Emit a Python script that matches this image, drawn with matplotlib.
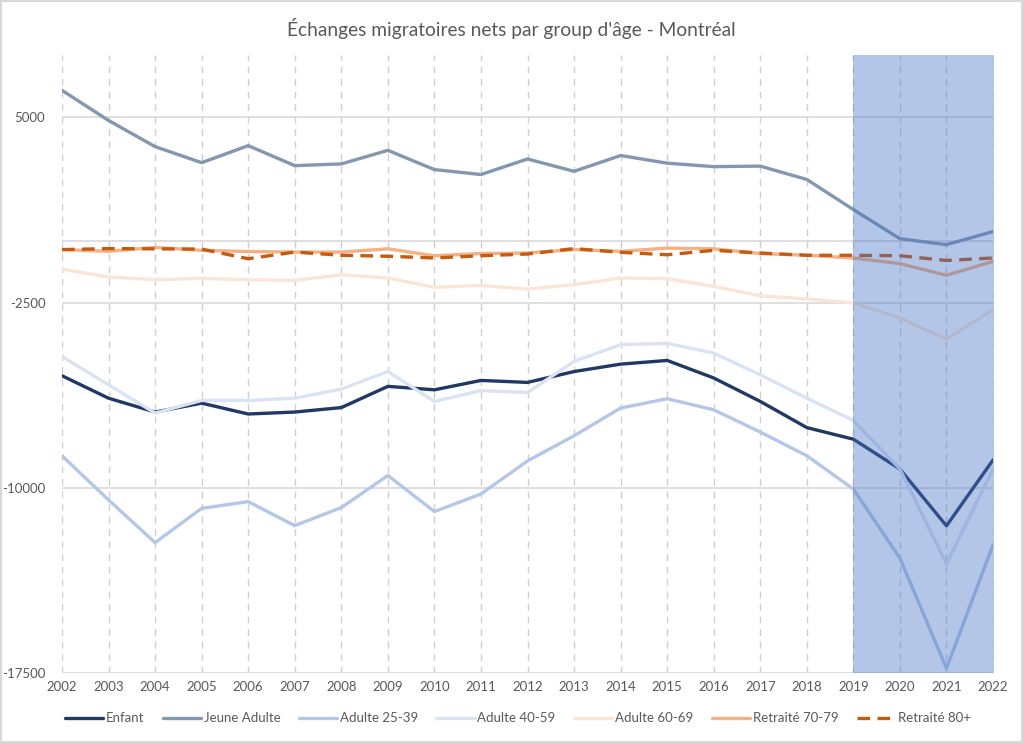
import matplotlib
matplotlib.use("Agg")
import matplotlib.pyplot as plt
from matplotlib.patches import Rectangle

years = list(range(2002, 2023))

enfant = [-5460, -6370, -6930, -6570, -7010, -6930, -6750, -5890, -6030, -5650, -5730,
          -5290, -4990, -4840, -5550, -6500, -7560, -8030, -9240, -11540, -8870]
jeune_adulte = [6100, 4880, 3820, 3170, 3860, 3050, 3120, 3670, 2890, 2690, 3320,
                2820, 3460, 3150, 3010, 3030, 2490, 1270, 90, -150, 380]
adulte_25_39 = [-8700, -10490, -12220, -10830, -10560, -11530, -10800, -9500, -10960, -10250, -8910,
                -7890, -6770, -6390, -6840, -7740, -8700, -10050, -12850, -17310, -12310]
adulte_40_59 = [-4680, -5830, -6970, -6460, -6460, -6370, -6000, -5290, -6500, -6060, -6140,
                -4880, -4200, -4150, -4540, -5420, -6370, -7270, -9240, -13080, -9240]
adulte_60_69 = [-1140, -1460, -1570, -1520, -1570, -1600, -1370, -1500, -1880, -1800, -1950,
                -1770, -1500, -1530, -1840, -2220, -2350, -2510, -3120, -3970, -2790]
retraite_70_79 = [-350, -420, -260, -380, -430, -450, -450, -320, -600, -510, -490,
                  -350, -420, -290, -320, -510, -580, -690, -920, -1390, -830]
retraite_80 = [-350, -310, -320, -330, -720, -450, -580, -620, -690, -600, -530,
               -310, -460, -560, -380, -490, -580, -580, -600, -790, -690]

labels = ["Enfant", "Jeune Adulte", "Adulte 25-39", "Adulte 40-59",
          "Adulte 60-69", "Retraité 70-79", "Retraité 80+"]
series = [enfant, jeune_adulte, adulte_25_39, adulte_40_59, adulte_60_69, retraite_70_79, retraite_80]
colors = ["#203864", "#8497b0", "#b4c7e7", "#dae3f3", "#fbe5d6", "#f4b183", "#c55a11"]

ytick_vals = [-17500, -10000, -2500, 5000]
highlight_start, highlight_end = 2019, 2022

plt.rcParams['font.family'] = ['Lato', 'DejaVu Sans']

fig = plt.figure(figsize=(10.23, 7.43), dpi=100)
ax = fig.add_axes([0.0606, 0.0942, 0.9101, 0.8324])

ax.set_xlim(2002, 2022)
ax.set_ylim(-17500, 7550)

for yr in years:
    ax.axvline(yr, color="#d0d0d0", lw=1, ls=(0, (5, 4)), zorder=0)
for v in ytick_vals + [0]:
    ax.axhline(v, color="#d9d9d9", lw=1.2, zorder=0)

for vals, lab, col in zip(series, labels, colors):
    ls = (0, (3.8, 2.2)) if lab == "Retraité 80+" else "-"
    ax.plot(years, vals, color=col, lw=2.4, ls=ls, label=lab, zorder=2,
            solid_capstyle="round", dash_capstyle="butt")

ax.add_patch(Rectangle((highlight_start, -17500), highlight_end - highlight_start + 0.03, 25050,
                       facecolor="#4472c4", alpha=0.4, edgecolor="none", zorder=3, clip_on=False))

ax.set_xticks(years)
ax.set_xticklabels([str(y) for y in years])
ax.set_yticks(ytick_vals)
ax.set_yticklabels([str(v) for v in ytick_vals])
ax.tick_params(axis="both", length=0, labelsize=9.5, colors="#595959")
ax.tick_params(axis="x", pad=6)
ax.tick_params(axis="y", pad=12)
for s in ax.spines.values():
    s.set_visible(False)

fig.text(0.5, 0.962, "Échanges migratoires nets par group d'âge - Montréal",
         ha="center", va="center", fontsize=13.8, color="#595959")

leg = fig.legend(loc="center", bbox_to_anchor=(0.506, 0.033), ncol=7, frameon=False,
                 fontsize=9.5, handlelength=2.9, columnspacing=1.4, handletextpad=0.2)
for t in leg.get_texts():
    t.set_color("#595959")

fig.patches.append(Rectangle((0.001, 0.001), 0.998, 0.998, transform=fig.transFigure,
                             fill=False, edgecolor="#d9d9d9", lw=1.5))

fig.savefig("out.png", dpi=100)
